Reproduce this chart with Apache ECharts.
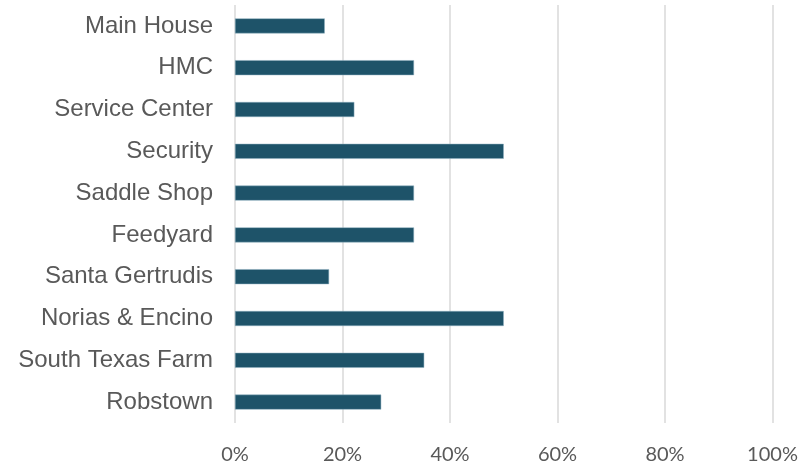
<!DOCTYPE html>
<html><head><meta charset="utf-8">
<script src="https://cdn.jsdelivr.net/npm/echarts@6/dist/echarts.min.js"></script>
<style>html,body{margin:0;padding:0;background:#fff}#c{width:812px;height:467px}</style>
</head><body><div id="c"></div>
<script>
const categories = ["Main House","HMC","Service Center","Security","Saddle Shop","Feedyard","Santa Gertrudis","Norias & Encino","South Texas Farm","Robstown"];
const values = [16.7, 33.3, 22.2, 50, 33.3, 33.3, 17.5, 50, 35.2, 27.2];
const tickValues = [0, 20, 40, 60, 80, 100];

const chart = echarts.init(document.getElementById('c'), null, {renderer: 'canvas'});
chart.setOption({
  animation: false,
  grid: {left: 235, right: 39.5, top: 5, bottom: 44, containLabel: false},
  xAxis: {
    type: 'value', min: 0, max: 100, interval: 20,
    axisLine: {show: false}, axisTick: {show: false},
    splitLine: {show: true, lineStyle: {color: '#d9d9d9', width: 1.5}},
    axisLabel: {formatter: v => v + '%', color: '#595959', fontSize: 20, fontFamily: 'Lato', margin: 22}
  },
  yAxis: {
    type: 'category', data: categories, inverse: true,
    axisLine: {show: false}, axisTick: {show: false},
    axisLabel: {color: '#595959', fontSize: 24, fontFamily: 'Liberation Sans', margin: 22, padding: [3, 0, 0, 0]}
  },
  series: [{
    type: 'bar', data: values, barWidth: 15,
    itemStyle: {color: '#1e5369', borderColor: '#8fb0c0', borderWidth: 0.5}
  }]
});
</script></body></html>
